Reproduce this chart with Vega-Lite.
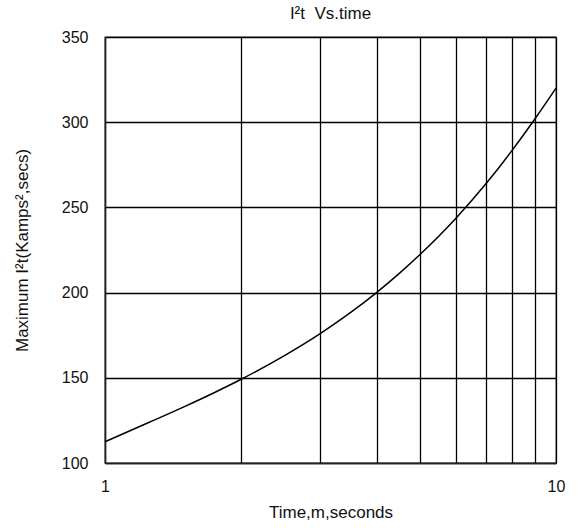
{
  "$schema": "https://vega.github.io/schema/vega-lite/v6.json",
  "autosize": {"type": "none"},
  "width": 451,
  "height": 426,
  "padding": {"left": 105, "top": 37, "right": 22, "bottom": 65},
  "background": "white",
  "title": {
    "text": "I²t \u00a0Vs.time",
    "font": "Liberation Sans",
    "fontSize": 17,
    "fontWeight": "normal",
    "color": "#111",
    "anchor": "middle",
    "offset": 6
  },
  "config": {
    "view": {"stroke": "#8a8a8a", "strokeWidth": 1.5},
    "font": "Liberation Sans"
  },
  "data": {
    "values": [
      {"t": 1, "i2t": 112.5},
      {"t": 1.25, "i2t": 123.75},
      {"t": 1.5, "i2t": 133.1},
      {"t": 1.75, "i2t": 141.4},
      {"t": 2, "i2t": 149},
      {"t": 2.5, "i2t": 163},
      {"t": 3, "i2t": 175.9},
      {"t": 3.5, "i2t": 188.2},
      {"t": 4, "i2t": 200},
      {"t": 4.5, "i2t": 211.4},
      {"t": 5, "i2t": 222.5},
      {"t": 6, "i2t": 243.7},
      {"t": 7, "i2t": 264},
      {"t": 8, "i2t": 283.6},
      {"t": 9, "i2t": 302.3},
      {"t": 10, "i2t": 320}
    ]
  },
  "mark": {"type": "line", "color": "black", "strokeWidth": 1.5, "interpolate": "monotone"},
  "encoding": {
    "x": {
      "field": "t",
      "type": "quantitative",
      "scale": {"type": "log", "domain": [1, 10], "nice": false},
      "axis": {
        "title": "Time,m,seconds",
        "titleFont": "Liberation Sans",
        "titleFontSize": 17,
        "titleFontWeight": "normal",
        "titleColor": "#111",
        "titlePadding": 10,
        "values": [1, 2, 3, 4, 5, 6, 7, 8, 9, 10],
        "labelExpr": "datum.value == 1 || datum.value == 10 ? format(datum.value, 'd') : ''",
        "labelFontSize": 16,
        "labelColor": "#111",
        "labelPadding": 15,
        "labelFlush": false,
        "labelOverlap": false,
        "ticks": false,
        "grid": true,
        "gridColor": "black",
        "gridWidth": 1.3,
        "gridOpacity": 1,
        "domainColor": "#222",
        "domainWidth": 1.5
      }
    },
    "y": {
      "field": "i2t",
      "type": "quantitative",
      "scale": {"domain": [100, 350], "nice": false, "zero": false},
      "axis": {
        "title": "Maximum I²t(Kamps²,secs)",
        "titleFont": "Liberation Sans",
        "titleFontSize": 17,
        "titleFontWeight": "normal",
        "titleColor": "#111",
        "titlePadding": 30,
        "values": [100, 150, 200, 250, 300, 350],
        "labelFontSize": 16,
        "labelColor": "#111",
        "labelPadding": 17,
        "labelFlush": false,
        "ticks": false,
        "grid": true,
        "gridColor": "black",
        "gridWidth": 1.3,
        "gridOpacity": 1,
        "domainColor": "#222",
        "domainWidth": 1.5
      }
    }
  }
}
